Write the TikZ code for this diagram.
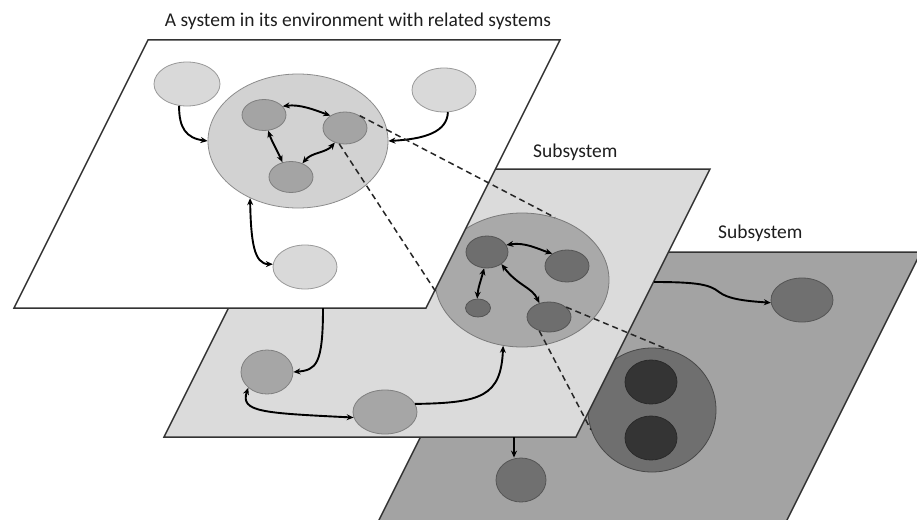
\documentclass[tikz,border=0pt]{standalone}
\usepackage{fontspec}
\setmainfont{Carlito}
\usetikzlibrary{arrows.meta,shapes.geometric}

\definecolor{planeedge}{HTML}{333333}
\definecolor{planemid}{HTML}{DBDBDB}
\definecolor{planebot}{HTML}{A3A3A3}
\definecolor{envtop}{HTML}{D9D9D9}
\definecolor{envtopedge}{HTML}{9A9A9A}
\definecolor{systop}{HTML}{D2D2D2}
\definecolor{systopedge}{HTML}{8C8C8C}
\definecolor{parttop}{HTML}{A4A4A4}
\definecolor{parttopedge}{HTML}{7F7F7F}
\definecolor{envmid}{HTML}{A6A6A6}
\definecolor{envmidedge}{HTML}{808080}
\definecolor{sysmid}{HTML}{A9A9A9}
\definecolor{sysmidedge}{HTML}{7A7A7A}
\definecolor{partmid}{HTML}{6E6E6E}
\definecolor{partmidedge}{HTML}{555555}
\definecolor{envbot}{HTML}{707070}
\definecolor{envbotedge}{HTML}{555555}
\definecolor{sysbot}{HTML}{6F6F6F}
\definecolor{sysbotedge}{HTML}{484848}
\definecolor{partbot}{HTML}{343434}
\definecolor{partbotedge}{HTML}{2A2A2A}
\definecolor{labeltext}{HTML}{1E1E1E}

\begin{document}
\begin{tikzpicture}[x=1pt,y=-1pt,
  plane/.style={draw=planeedge, line width=1.5pt, line join=miter},
  ell/.style={ellipse, inner sep=0pt, line width=0.8pt},
  conn/.style={line width=1.9pt, black, -{Stealth[length=7pt,width=6pt]}},
  dconn/.style={line width=1.9pt, black, {Stealth[length=7pt,width=6pt]}-{Stealth[length=7pt,width=6pt]}},
  zoomline/.style={line width=1.5pt, draw=black!85, dash pattern=on 6pt off 4pt},
  caption/.style={inner sep=0pt, text=labeltext, font=\fontsize{19.5}{23}\selectfont}]
\useasboundingbox (0,0) rectangle (917,519);
\fill[white] (0,0) rectangle (917,519);

% ---- lowest layer: a subsystem of the subsystem
\begin{scope}
  \clip (0,0) rectangle (917,519);
  \filldraw[plane, fill=planebot] (513,252) -- (921,252) -- (771,552) -- (363,552) -- cycle;
\end{scope}
\node[ell, fill=envbot, draw=envbotedge, minimum width=62pt, minimum height=44pt] (bR) at (802,300) {};
\node[ell, fill=envbot, draw=envbotedge, minimum width=50pt, minimum height=44pt] (bS) at (521,480) {};
\node[ell, fill=sysbot, draw=sysbotedge, minimum width=128pt, minimum height=124pt] (sub2) at (652,410) {};
\node[ell, fill=partbot, draw=partbotedge, minimum width=52pt, minimum height=44pt] (u1) at (651,382) {};
\node[ell, fill=partbot, draw=partbotedge, minimum width=52pt, minimum height=44pt] (u2) at (651,438) {};

% ---- middle layer: the subsystem
\filldraw[plane, fill=planemid] (298,169) -- (710,169) -- (576,437) -- (164,437) -- cycle;
\node[ell, fill=envmid, draw=envmidedge, minimum width=52pt, minimum height=44pt] (mA) at (267,372) {};
\node[ell, fill=envmid, draw=envmidedge, minimum width=64pt, minimum height=44pt] (mB) at (385,412) {};
\node[ell, fill=sysmid, draw=sysmidedge, minimum width=174pt, minimum height=134pt] (sub) at (522,280) {};
\node[ell, fill=partmid, draw=partmidedge, minimum width=42pt, minimum height=32pt] (t1) at (487,252) {};
\node[ell, fill=partmid, draw=partmidedge, minimum width=44pt, minimum height=32pt] (t2) at (567,266) {};
\node[ell, fill=partmid, draw=partmidedge, minimum width=25pt, minimum height=18pt] (t3) at (478,308) {};
\node[ell, fill=partmid, draw=partmidedge, minimum width=44pt, minimum height=30pt] (t4) at (549,317) {};

% ---- top layer: the system in its environment
\filldraw[plane, fill=white] (148,40) -- (560,40) -- (426,308) -- (14,308) -- cycle;
\node[ell, fill=envtop, draw=envtopedge, minimum width=66pt, minimum height=44pt] (eA) at (187,84) {};
\node[ell, fill=envtop, draw=envtopedge, minimum width=64pt, minimum height=44pt] (eB) at (444,90) {};
\node[ell, fill=envtop, draw=envtopedge, minimum width=64pt, minimum height=44pt] (eC) at (305,267) {};
\node[ell, fill=systop, draw=systopedge, minimum width=180pt, minimum height=134pt] (sys) at (298,141) {};
\node[ell, fill=parttop, draw=parttopedge, minimum width=44pt, minimum height=31pt] (s1) at (264,115) {};
\node[ell, fill=parttop, draw=parttopedge, minimum width=44pt, minimum height=32pt] (s2) at (345,128) {};
\node[ell, fill=parttop, draw=parttopedge, minimum width=44pt, minimum height=31pt] (s3) at (291,177) {};

% free ends on the plane edges
\coordinate (p1) at (323,308);
\coordinate (p2) at (654,282);
\coordinate (p3) at (514,437);

% ---- connectors, top layer
\draw[conn] (eA.250) .. controls (179,128) and (186,138) .. (sys.west);
\draw[conn] (eB.280) .. controls (447,132) and (425,139) .. (sys.east);
\draw[dconn] (s1.25) .. controls (300,104) and (315,110) .. (s2.140);
\draw[dconn] (s1.285) .. controls (272,142) and (277,150) .. (s3.120);
\draw[dconn] (s2.235) .. controls (326,153) and (312,152) .. (s3.50);
\draw[dconn] (sys.230) .. controls (251,242) and (254,264) .. (eC.175);

% ---- connectors, middle layer
\draw[conn] (p1) .. controls (323,365) and (316,370) .. (mA.east);
\draw[dconn] (mA.220) .. controls (240,412) and (262,413) .. (mB.190);
\draw[conn] (mB.15) .. controls (482,403) and (501,396) .. (sub.254);
\draw[dconn] (t1.20) .. controls (525,242) and (538,249) .. (t2.140);
\draw[dconn] (t1.260) .. controls (481,280) and (478,288) .. (t3.95);
\draw[dconn] (t1.320) .. controls (518,286) and (532,287) .. (t4.125);

% ---- connectors, lowest layer
\draw[conn] (p2) .. controls (700,282) and (710,285) .. (719,292)
  .. controls (728,299) and (745,301) .. (bR.185);
\draw[conn] (p3) -- (p3 |- bS.north);

% ---- zoom lines between layers
\draw[zoomline] (s2.40) -- (sub.62);
\draw[zoomline] (s2.250) -- (sub.188);
\draw[zoomline] (t4.30) -- (sub2.75);
\draw[zoomline] (t4.235) -- (sub2.198);

% ---- captions
\node[caption, anchor=base] (title) at (358,27) {A system in its environment with related systems};
\node[caption, anchor=base west] (lab1) at (533,157) {Subsystem};
\node[caption, anchor=base west] (lab2) at (718,238) {Subsystem};
\end{tikzpicture}
\end{document}
